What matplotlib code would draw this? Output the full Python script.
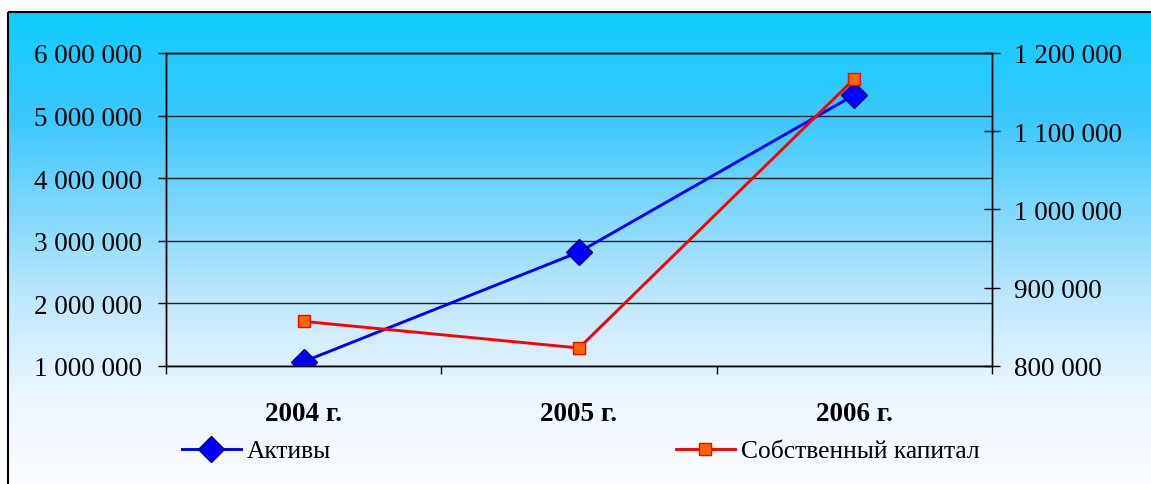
import numpy as np
import matplotlib.pyplot as plt
from matplotlib.patches import Rectangle
from matplotlib.ticker import FuncFormatter, FixedLocator

# Data
years = ['2004 г.', '2005 г.', '2006 г.']
assets = [1070000, 2820000, 5330000]          # Активы, left axis
equity = [857000, 823000, 1167000]            # Собственный капитал, right axis

left_ticks = [1000000, 2000000, 3000000, 4000000, 5000000, 6000000]
right_ticks = [800000, 900000, 1000000, 1100000, 1200000]

plt.rcParams['font.family'] = ['Liberation Serif', 'DejaVu Serif']
fs = 19.5
fs_leg = 18.4

W, H = 1151, 485
fig = plt.figure(figsize=(W / 100, H / 100), dpi=100)

# Background gradient across the whole chart area
bg = fig.add_axes([0, 0, 1, 1], zorder=-10)
bg.set_axis_off()
ys = np.arange(H)
stops_y = [0, 12, 120, 200, 300, 400, 485]
stops_r = [255, 15, 60, 120, 190, 238, 250]
stops_g = [255, 205, 200, 214, 232, 247, 252]
stops_b = [255, 255, 252, 252, 252, 255, 255]
col = np.stack([np.interp(ys, stops_y, stops_r),
                np.interp(ys, stops_y, stops_g),
                np.interp(ys, stops_y, stops_b)], axis=1) / 255.0
img = np.repeat(col[:, None, :], W, axis=1)
img[:, :8, :] = 1.0
img[:12, :, :] = 1.0
bg.imshow(img, aspect='auto', extent=[0, W, H, 0], interpolation='bilinear')
bg.set_xlim(0, W)
bg.set_ylim(H, 0)
bg.add_patch(Rectangle((8.5, 12.5), W + 10, H + 10, fill=False,
                       edgecolor='black', linewidth=1.5))

# Main axes
x0, x1, y0, y1 = 166, 992, 54, 367
ax = fig.add_axes([x0 / W, 1 - y1 / H, (x1 - x0) / W, (y1 - y0) / H])
ax.patch.set_alpha(0)
xpos = np.arange(len(years)) + 0.5
ax.set_xlim(0, len(years))
ax.set_ylim(left_ticks[0], left_ticks[-1])

fmt = FuncFormatter(lambda v, p: f'{v:,.0f}'.replace(',', ' '))

ax.set_yticks(left_ticks)
ax.yaxis.set_major_formatter(fmt)
ax.tick_params(axis='y', direction='out', length=6, width=1, pad=11,
               labelsize=fs, colors='black')
ax.grid(axis='y', color='#222222', linewidth=1)
ax.set_axisbelow(True)

ax.xaxis.set_major_locator(FixedLocator([0, 1, 2, 3]))
ax.xaxis.set_major_formatter(FuncFormatter(lambda v, p: ''))
ax.xaxis.set_minor_locator(FixedLocator(xpos))
ax.set_xticklabels(years, minor=True)
ax.tick_params(axis='x', which='major', direction='out', length=6, width=1)
ax.tick_params(axis='x', which='minor', length=0, pad=25, labelsize=fs)
for lab in ax.get_xticklabels(minor=True):
    lab.set_fontweight('bold')

for s in ax.spines.values():
    s.set_color('black')
    s.set_linewidth(1)

la, = ax.plot(xpos, assets, color='#0000FF', linewidth=2.1,
              marker='D', markersize=13, markerfacecolor='#0000FF',
              markeredgecolor='#000080', markeredgewidth=1,
              label='Активы', zorder=3)

ax2 = ax.twinx()
ax2.set_ylim(right_ticks[0], right_ticks[-1])
ax2.set_yticks(right_ticks)
ax2.yaxis.set_major_formatter(fmt)
ax2.tick_params(axis='y', direction='inout', length=12, width=1, pad=10,
                labelsize=fs, colors='black')
for s in ax2.spines.values():
    s.set_color('black')
    s.set_linewidth(1)

le, = ax2.plot(xpos, equity, color='#FF0000', linewidth=2.1,
               marker='s', markersize=9, markerfacecolor='#FF6600',
               markeredgecolor='#FF0000', markeredgewidth=1,
               label='Собственный капитал', zorder=3)

fig.legend(handles=[la, le], loc='center left',
           bbox_to_anchor=(182 / W, 1 - 452 / H), ncol=2, frameon=False,
           fontsize=fs_leg, handlelength=2.3, handletextpad=0.23,
           columnspacing=13.5, borderpad=0, borderaxespad=0)

fig.savefig('out.png', dpi=100)
